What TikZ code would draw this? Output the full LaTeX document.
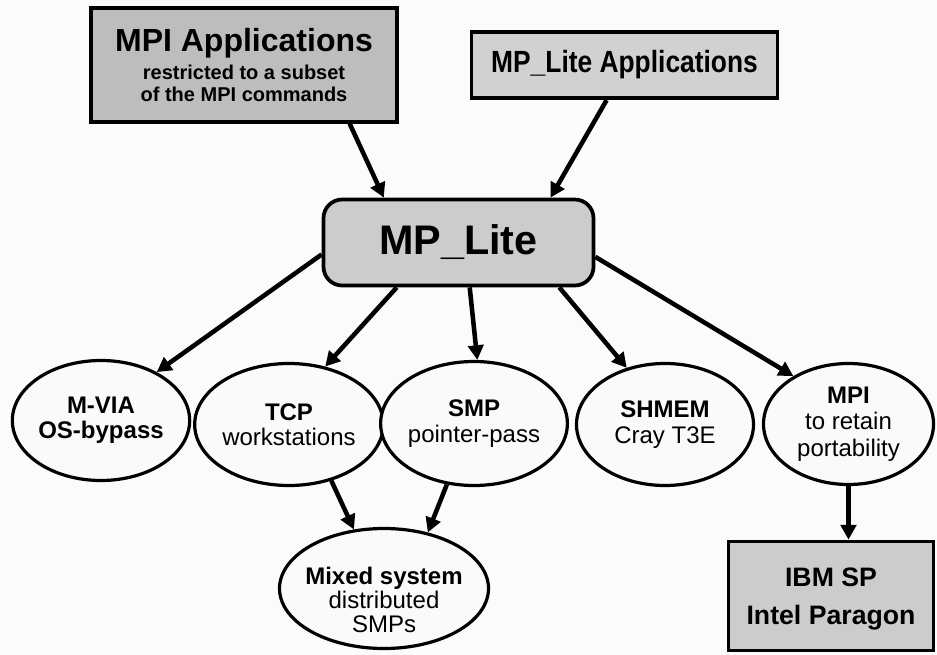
\documentclass[tikz,border=0pt]{standalone}
\usepackage{fontspec}
\usepackage{graphicx}
\setmainfont{Liberation Sans}
\usetikzlibrary{arrows.meta,shapes.geometric}
\begin{document}
\begin{tikzpicture}[x=0.75pt,y=-0.75pt,
  boxnode/.style={draw=black, line width=2.8pt, fill=gray!42, inner sep=0pt, align=center},
  ovalnode/.style={ellipse, draw=black, line width=2.4pt, fill=gray!4, inner sep=0pt, align=center,
                   font=\fontsize{18}{19}\selectfont},
  link/.style={line width=3.4pt, -{Triangle[length=11pt,width=11.5pt]}},
]
% page background
\fill[gray!3] (0,0) rectangle (937,655);
\useasboundingbox (0,0) rectangle (937,655);

% application layers
\node[boxnode, fill=gray!52, minimum width=229pt, minimum height=85pt,
      font=\fontsize{15}{16.5}\selectfont\bfseries] (mpiapp) at (244,65)
  {{\fontsize{24}{26}\selectfont MPI Applications}\\[4pt]
   restricted to a subset\\ of the MPI commands};
\node[boxnode, fill=gray!36, minimum width=229.5pt, minimum height=50pt,
      font=\fontsize{23}{25}\selectfont\bfseries] (mplapp) at (624.5,65)
  {\scalebox{0.86}[1]{MP\_Lite Applications}};

% the library itself
\node[boxnode, fill=gray!40, rounded corners=14pt, minimum width=202.5pt, minimum height=64.5pt,
      font=\fontsize{31}{33}\selectfont\bfseries] (mplite) at (458.5,242.5) {MP\_Lite};

% communication modules
\node[ovalnode, minimum width=131.25pt, minimum height=90pt] (mvia) at (101,420.5)
  {\bfseries M-VIA\\ \bfseries OS-bypass};
\node[ovalnode, minimum width=131.25pt, minimum height=91.5pt] (tcp) at (289,424.5)
  {\bfseries TCP\\ workstations};
\node[ovalnode, minimum width=126.75pt, minimum height=93pt] (smp) at (474,423.5)
  {\bfseries SMP\\ pointer-pass};
\node[ovalnode, minimum width=132.75pt, minimum height=91.5pt] (shmem) at (665,424.5)
  {\bfseries SHMEM\\ Cray T3E};
\node[ovalnode, minimum width=127.5pt, minimum height=90.75pt] (mpi) at (848.5,424)
  {\bfseries MPI\\[1pt] to retain\\[1pt] portability};

% targets
\node[ovalnode, minimum width=156.75pt, minimum height=90pt] (mixed) at (384,588.5) {};
\node[align=center, font=\fontsize{18}{18}\selectfont] (mixedtext) at (384,600)
  {\bfseries Mixed system\\ distributed\\ SMPs};
\node[boxnode, fill=gray!40, minimum width=153.75pt, minimum height=81.75pt] (ibm) at (831,596) {};
\node[align=center, font=\fontsize{20}{22}\selectfont\bfseries] (ibmtext) at (831,599)
  {IBM SP\\[7pt] Intel Paragon};

% connectors
\draw[link] (mpiapp.-29) -- (mplite.149);
\draw[link] (mplapp.-117) -- (mplite.26);
\draw[link] (mplite.185) -- (mvia.41);
\draw[link] (mplite.216) -- (tcp.58);
\draw[link] (mplite.-76) -- (smp.87);
\draw[link] (mplite.-24) -- (shmem.124);
\draw[link] (mplite.-6) -- (mpi.139);
\draw[link] (tcp.-53) -- (mixed.117);
\draw[link] (smp.246) -- (mixed.52);
\draw[link] (mpi.south) -- (mpi.south |- ibm.north);
\end{tikzpicture}
\end{document}
